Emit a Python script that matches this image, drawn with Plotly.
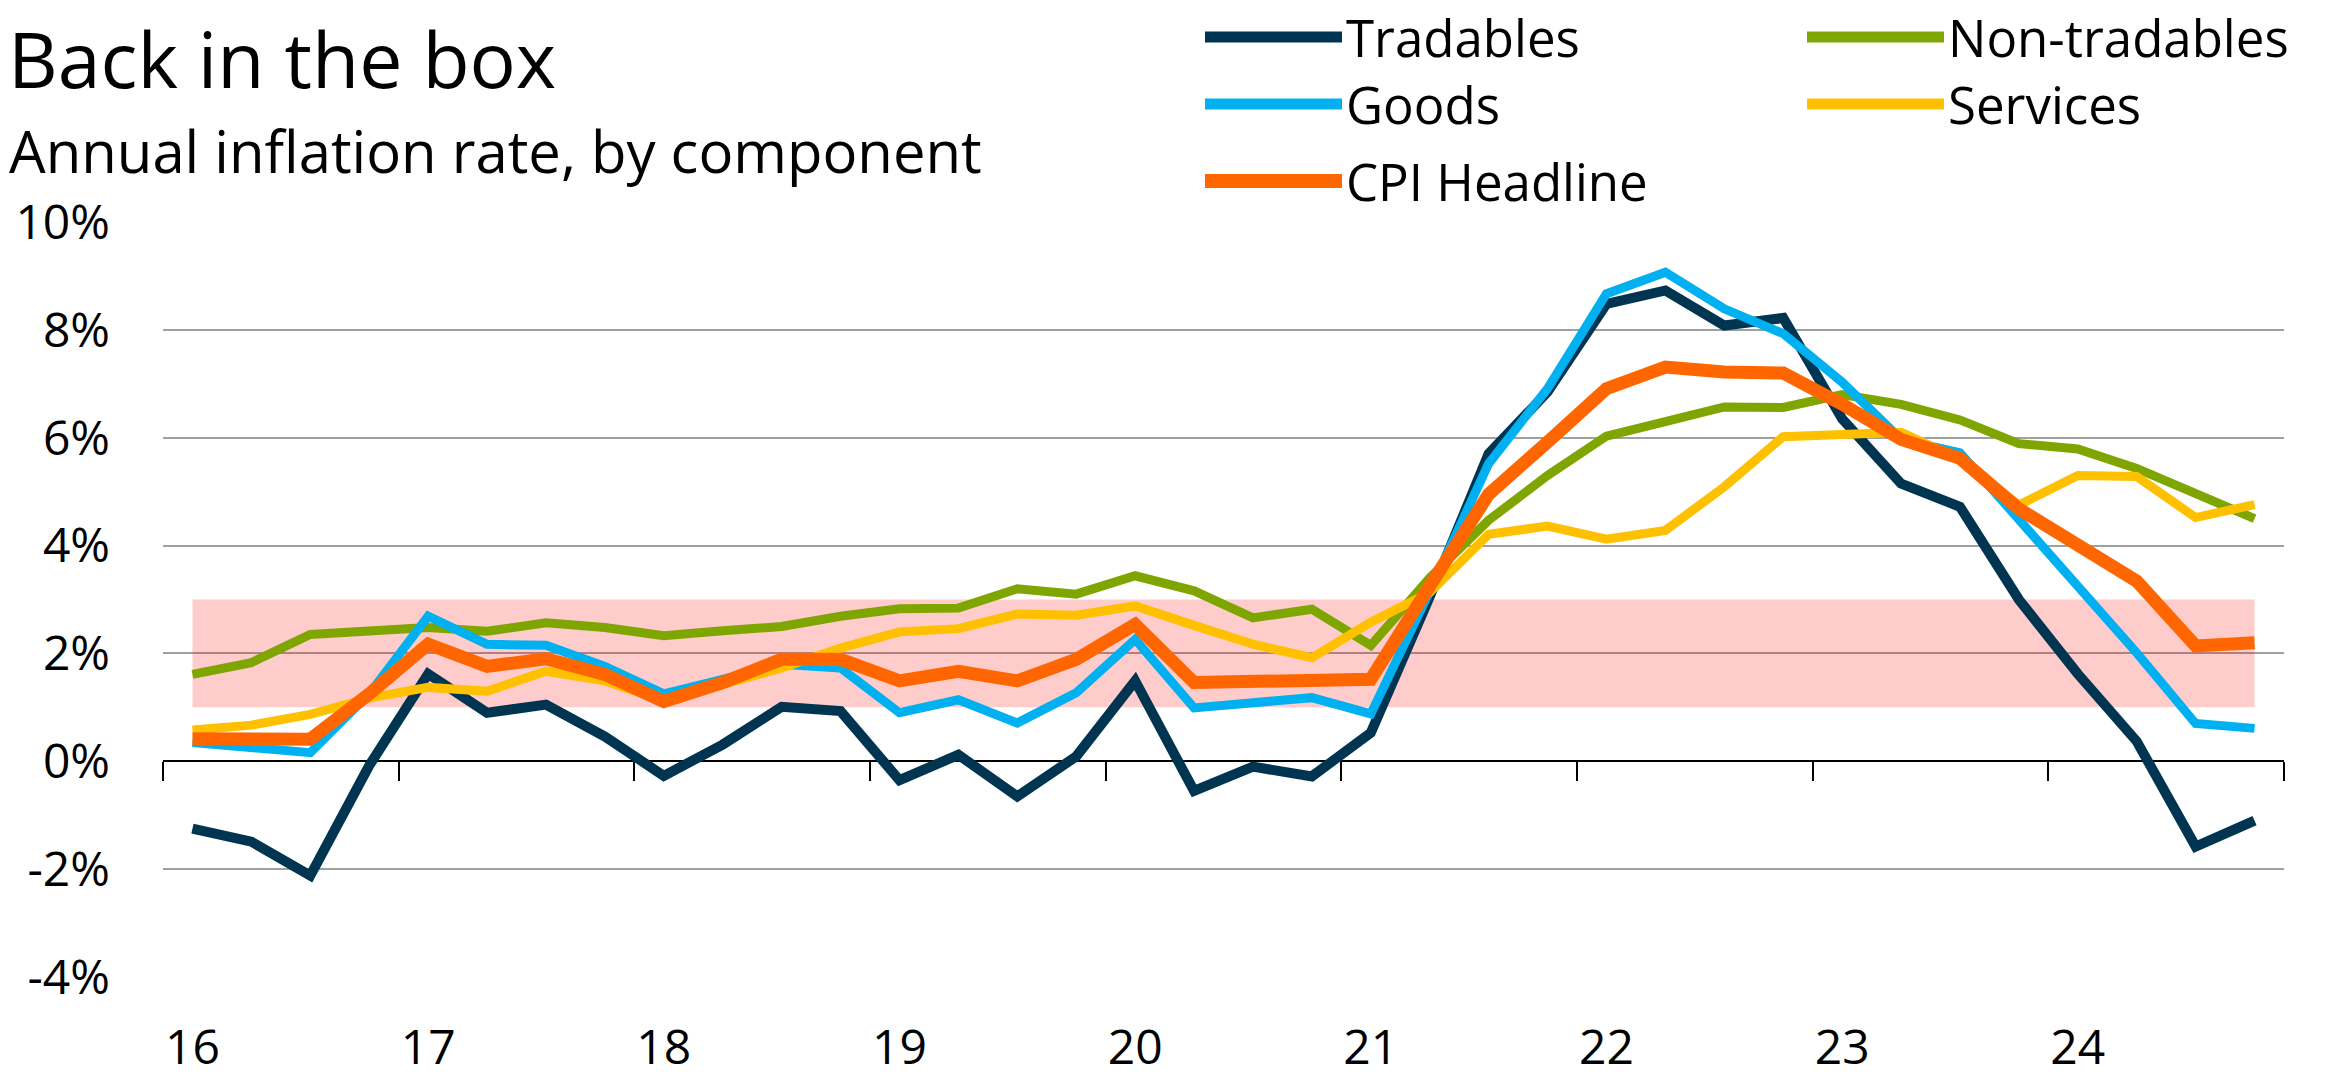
import plotly.graph_objects as go

# ---------------- data ----------------
QUARTERS = [
    "2016Q1", "2016Q2", "2016Q3", "2016Q4",
    "2017Q1", "2017Q2", "2017Q3", "2017Q4",
    "2018Q1", "2018Q2", "2018Q3", "2018Q4",
    "2019Q1", "2019Q2", "2019Q3", "2019Q4",
    "2020Q1", "2020Q2", "2020Q3", "2020Q4",
    "2021Q1", "2021Q2", "2021Q3", "2021Q4",
    "2022Q1", "2022Q2", "2022Q3", "2022Q4",
    "2023Q1", "2023Q2", "2023Q3", "2023Q4",
    "2024Q1", "2024Q2", "2024Q3", "2024Q4",
]
YEAR_TICKS = ["2016Q1", "2017Q1", "2018Q1", "2019Q1", "2020Q1",
              "2021Q1", "2022Q1", "2023Q1", "2024Q1"]
YEAR_LABELS = ["16", "17", "18", "19", "20", "21", "22", "23", "24"]

tradables = [-1.25, -1.49, -2.12, -0.08, 1.62, 0.90, 1.05, 0.46,
             -0.27, 0.31, 1.01, 0.93, -0.35, 0.12, -0.65, 0.09,
             1.49, -0.55, -0.10, -0.28, 0.53, 3.05, 5.70, 6.85,
             8.48, 8.73, 8.08, 8.22, 6.35, 5.15, 4.72, 3.00,
             1.62, 0.37, -1.58, -1.10]
non_tradables = [1.61, 1.83, 2.35, 2.41, 2.48, 2.41, 2.57, 2.48,
                 2.33, 2.42, 2.50, 2.69, 2.83, 2.84, 3.20, 3.10,
                 3.44, 3.16, 2.66, 2.82, 2.15, 3.40, 4.47, 5.30,
                 6.03, 6.30, 6.57, 6.56, 6.80, 6.62, 6.33, 5.89,
                 5.79, 5.43, 4.97, 4.50]
goods = [0.35, 0.26, 0.16, 1.25, 2.69, 2.17, 2.15, 1.76,
         1.25, 1.52, 1.80, 1.73, 0.90, 1.14, 0.71, 1.27,
         2.26, 0.99, 1.07, 1.18, 0.88, 3.15, 5.52, 6.91,
         8.67, 9.07, 8.39, 7.93, 7.03, 5.97, 5.72, 4.50,
         3.28, 2.01, 0.70, 0.61]
services = [0.58, 0.67, 0.87, 1.17, 1.37, 1.30, 1.67, 1.49,
            1.12, 1.42, 1.73, 2.10, 2.40, 2.46, 2.73, 2.71,
            2.88, 2.52, 2.17, 1.92, 2.58, 3.13, 4.21, 4.36,
            4.12, 4.28, 5.09, 6.02, 6.05, 6.10, 5.60, 4.75,
            5.30, 5.28, 4.52, 4.76]
cpi_headline = [0.42, 0.42, 0.41, 1.25, 2.17, 1.76, 1.90, 1.61,
                1.11, 1.46, 1.89, 1.89, 1.49, 1.67, 1.49, 1.89,
                2.54, 1.46, 1.46, 1.46, 1.52, 3.25, 4.95, 5.92,
                6.91, 7.31, 7.22, 7.20, 6.62, 5.97, 5.62, 4.68,
                4.03, 3.34, 2.14, 2.20]

TARGET_LOW = 1
TARGET_HIGH = 3
Y_TICKS = [-4, -2, 0, 2, 4, 6, 8, 10]
Y_LABELS = ["-4%", "-2%", "0%", "2%", "4%", "6%", "8%", "10%"]

SERIES_NAMES = ["Tradables", "Non-tradables", "Goods", "Services", "CPI Headline"]
SERIES_VALUES = [tradables, non_tradables, goods, services, cpi_headline]

# ---------------- styles ----------------
COLORS = ["#003552", "#7FA600", "#00B0F0", "#FFC000", "#FF6600"]
WIDTHS = [10, 9, 9, 9, 13]
LEGEND_WIDTHS = [11, 11, 11, 11, 14]
FONT = "Open Sans, Noto Sans, DejaVu Sans, sans-serif"

W, H = 2325, 1081
ML, MR, MT, MB = 163, 41, 222, 104
PW, PH = W - ML - MR, H - MT - MB


def px_x(px):
    return (px - ML) / PW


def px_y(py):
    return (H - MB - py) / PH


fig = go.Figure()

for name, vals, col, wd in zip(SERIES_NAMES, SERIES_VALUES, COLORS, WIDTHS):
    fig.add_trace(go.Scatter(
        x=QUARTERS, y=vals, name=name, mode="lines",
        line=dict(color=col, width=wd), showlegend=False,
        hovertemplate="%{x}: %{y:.1f}%<extra>" + name + "</extra>",
    ))

# empty helper trace so the tick-mark axis on the 0% line gets drawn
fig.add_trace(go.Scatter(x=[], y=[], xaxis="x2", yaxis="y", mode="lines",
                         showlegend=False, hoverinfo="skip"))

# target band 1-3%
fig.add_shape(type="rect", xref="x", yref="y",
              x0=QUARTERS[0], x1=QUARTERS[-1], y0=TARGET_LOW, y1=TARGET_HIGH,
              fillcolor="rgba(255,0,0,0.2)", line=dict(width=0), layer="between")

# legend (two columns, drawn manually to match long line samples)
LEG_COL_X = [1205, 1807]
LEG_ROW_Y = [37, 104, 181]
LEG_LINE_LEN = 137
for k, (name, col, lw) in enumerate(zip(SERIES_NAMES, COLORS, LEGEND_WIDTHS)):
    cx = LEG_COL_X[k % 2]
    cy = LEG_ROW_Y[k // 2]
    fig.add_shape(type="line", xref="paper", yref="paper",
                  x0=px_x(cx), x1=px_x(cx + LEG_LINE_LEN), y0=px_y(cy), y1=px_y(cy),
                  line=dict(color=col, width=lw))
    fig.add_annotation(xref="paper", yref="paper", x=px_x(cx + LEG_LINE_LEN + 2), y=px_y(cy),
                       xanchor="left", yanchor="middle", showarrow=False,
                       text=name, font=dict(family=FONT, size=51, color="black"))

# titles
fig.add_annotation(xref="paper", yref="paper", x=px_x(6), y=px_y(58),
                   xanchor="left", yanchor="middle", showarrow=False,
                   text="Back in the box", font=dict(family=FONT, size=77, color="black"))
fig.add_annotation(xref="paper", yref="paper", x=px_x(7), y=px_y(150),
                   xanchor="left", yanchor="middle", showarrow=False,
                   text="Annual inflation rate, by component",
                   font=dict(family=FONT, size=58, color="black"))

fig.update_layout(
    width=W, height=H,
    margin=dict(l=ML, r=MR, t=MT, b=MB, pad=0, autoexpand=False),
    paper_bgcolor="white", plot_bgcolor="white",
    font=dict(family=FONT, color="black"),
    showlegend=False,
    xaxis=dict(
        type="category", categoryorder="array", categoryarray=QUARTERS,
        range=[-0.5, len(QUARTERS) - 0.5], automargin=False,
        tickmode="array", tickvals=YEAR_TICKS, ticktext=YEAR_LABELS,
        ticks="", showline=False, showgrid=False, zeroline=False,
        tickfont=dict(family=FONT, size=48, color="black"),
        ticklabelstandoff=38,
    ),
    xaxis2=dict(
        type="linear", overlaying="x", anchor="free", automargin=False,
        position=(0 - Y_TICKS[0]) / (Y_TICKS[-1] - Y_TICKS[0]),
        range=[-0.5, len(QUARTERS) - 0.5],
        tickmode="array", tickvals=[k - 0.5 for k in range(0, len(QUARTERS) + 1, 4)],
        ticks="outside", ticklen=19, tickwidth=2, tickcolor="black",
        showticklabels=False, showline=False, showgrid=False, zeroline=False,
    ),
    yaxis=dict(
        range=[Y_TICKS[0], Y_TICKS[-1]], automargin=False,
        tickmode="array", tickvals=Y_TICKS, ticktext=Y_LABELS,
        showgrid=True, gridcolor="#A0A0A0", gridwidth=2,
        zeroline=True, zerolinecolor="black", zerolinewidth=2,
        showline=False, ticks="",
        tickfont=dict(family=FONT, size=48, color="black"),
        ticklabelstandoff=52,
    ),
)

fig.write_html(
    "out.html",
    config={"displayModeBar": False},
    post_script="document.body.style.margin='0';document.body.style.overflow='hidden';",
)
